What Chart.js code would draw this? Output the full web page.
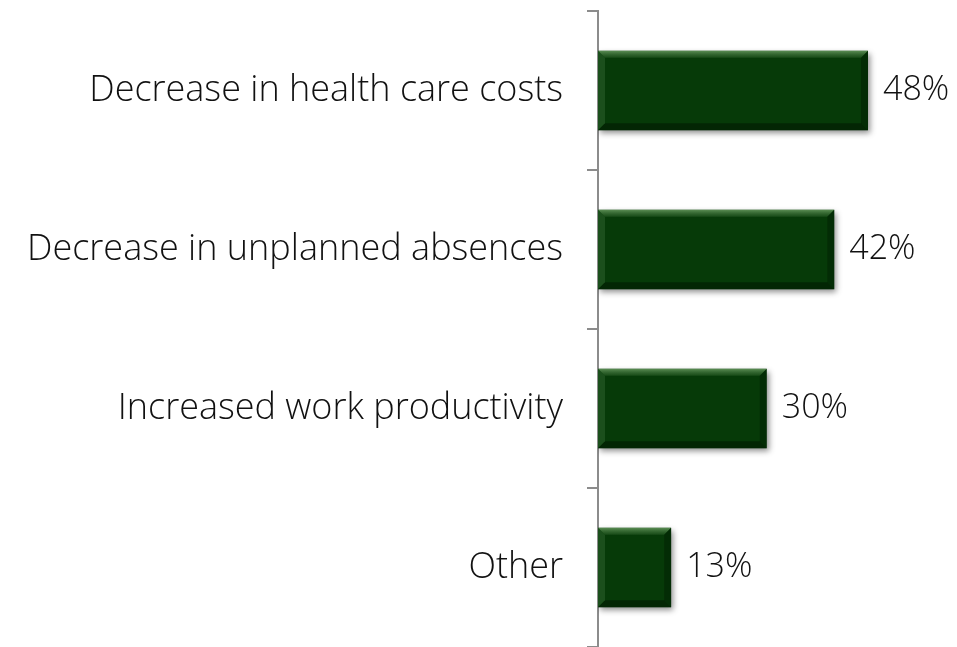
<!DOCTYPE html>
<html>
<head>
<meta charset="utf-8">
<script src="https://cdn.jsdelivr.net/npm/chart.js@4"></script>
<style>
html,body{margin:0;padding:0;background:#fff;}
#wrap{width:957px;height:647px;position:relative;}
</style>
</head>
<body>
<div id="wrap"><canvas id="c"></canvas></div>
<script>
const categories = ["Decrease in health care costs", "Decrease in unplanned absences", "Increased work productivity", "Other"];
const values = [48, 42, 30, 13];
const valueLabels = ["48%", "42%", "30%", "13%"];

const FONT = "'Open Sans'";
const barColor = "#063a08";

const bevelPlugin = {
  id: 'bevel',
  beforeDatasetDraw(chart) {
    const ctx = chart.ctx;
    ctx.save();
    ctx.shadowColor = 'rgba(0,0,0,0.45)';
    ctx.shadowBlur = 6;
    ctx.shadowOffsetX = 2;
    ctx.shadowOffsetY = 3;
  },
  afterDatasetDraw(chart) {
    const ctx = chart.ctx;
    ctx.restore();
    const meta = chart.getDatasetMeta(0);
    meta.data.forEach((bar, i) => {
      const x0 = Math.min(bar.base, bar.x), x1 = Math.max(bar.base, bar.x);
      const y0 = bar.y - bar.height / 2, y1 = bar.y + bar.height / 2;
      const b = 7;
      ctx.save();
      let g = ctx.createLinearGradient(0, y0, 0, y0 + b);
      g.addColorStop(0, 'rgba(120,170,110,0.75)');
      g.addColorStop(1, 'rgba(60,110,55,0.35)');
      ctx.fillStyle = g;
      ctx.beginPath(); ctx.moveTo(x0, y0); ctx.lineTo(x1, y0); ctx.lineTo(x1 - b, y0 + b); ctx.lineTo(x0 + b, y0 + b); ctx.closePath(); ctx.fill();
      ctx.fillStyle = 'rgba(70,120,65,0.35)';
      ctx.beginPath(); ctx.moveTo(x0, y0); ctx.lineTo(x0 + b, y0 + b); ctx.lineTo(x0 + b, y1 - b); ctx.lineTo(x0, y1); ctx.closePath(); ctx.fill();
      ctx.fillStyle = 'rgba(0,20,0,0.35)';
      ctx.beginPath(); ctx.moveTo(x1, y0); ctx.lineTo(x1, y1); ctx.lineTo(x1 - b, y1 - b); ctx.lineTo(x1 - b, y0 + b); ctx.closePath(); ctx.fill();
      ctx.fillStyle = 'rgba(0,15,0,0.45)';
      ctx.beginPath(); ctx.moveTo(x0, y1); ctx.lineTo(x1, y1); ctx.lineTo(x1 - b, y1 - b); ctx.lineTo(x0 + b, y1 - b); ctx.closePath(); ctx.fill();
      ctx.restore();
      ctx.save();
      ctx.fillStyle = '#111';
      ctx.font = '300 34px ' + FONT;
      ctx.textAlign = 'left';
      ctx.textBaseline = 'middle';
      ctx.fillText(valueLabels[i], x1 + 15, bar.y);
      ctx.restore();
    });
  }
};

new Chart(document.getElementById('c'), {
  type: 'bar',
  data: {
    labels: categories,
    datasets: [{
      data: values,
      backgroundColor: barColor,
      borderWidth: 0,
      categoryPercentage: 1.0,
      barPercentage: 0.5
    }]
  },
  options: {
    indexAxis: 'y',
    responsive: true,
    maintainAspectRatio: false,
    animation: false,
    layout: { padding: { top: 11, bottom: 0, left: 0, right: 21.5 } },
    plugins: { legend: { display: false }, tooltip: { enabled: false } },
    scales: {
      x: { display: false, min: 0, max: 60 },
      y: {
        afterFit(scale) { scale.width = 598; scale.paddingTop = 0; scale.paddingBottom = 0; },
        border: { display: true, color: '#8c8c8c', width: 2 },
        grid: { display: true, drawOnChartArea: false, drawTicks: true, tickLength: 11, color: '#8c8c8c', lineWidth: 2, offset: true },
        ticks: { color: '#111', padding: 24, font: { family: FONT, size: 36, weight: 300 } }
      }
    }
  },
  plugins: [bevelPlugin]
});
</script>
</body>
</html>
